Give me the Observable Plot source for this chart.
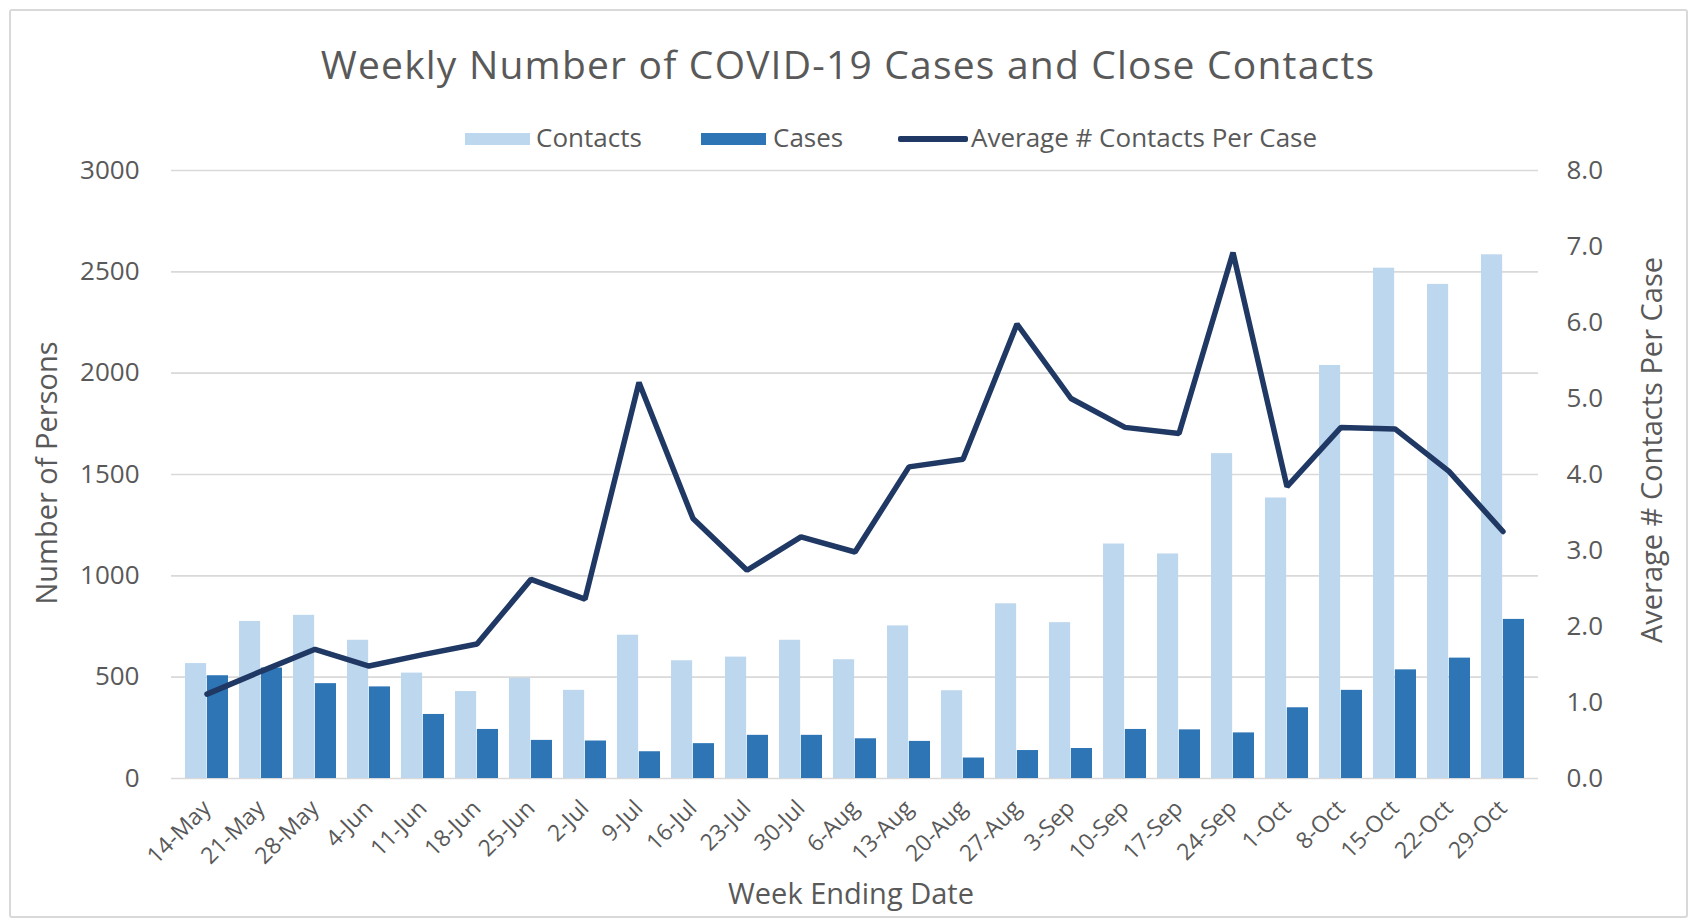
<!DOCTYPE html>
<html>
<head>
<meta charset="utf-8">
<script src="https://cdn.jsdelivr.net/npm/d3@7"></script>
<script src="https://cdn.jsdelivr.net/npm/@observablehq/plot@0.6"></script>
<style>
  body { margin: 0; background: #fff; font-family: "Open Sans", sans-serif; color: #595959; }
  #wrap { position: relative; width: 1696px; height: 923px; overflow: hidden; background: #fff; }
  #frame { position: absolute; left: 9px; top: 9px; width: 1675px; height: 905px; border: 2px solid #d9d9d9; border-radius: 3px; box-sizing: content-box; }
  #title { position: absolute; left: 0; top: 44px; width: 1696px; text-align: center; font-size: 39px; line-height: 1; letter-spacing: 1.2px; white-space: nowrap; }
  .leg { position: absolute; top: 124px; font-size: 26px; line-height: 1; white-space: nowrap; }
  .sw { position: absolute; }
  #chart { position: absolute; left: 0; top: 150px; }
  .axt { position: absolute; font-size: 29px; line-height: 1; white-space: nowrap; }
</style>
</head>
<body>
<div id="wrap">
  <div id="frame"></div>
  <div id="title">Weekly Number of COVID-19 Cases and Close Contacts</div>
  <div class="sw" style="left:465px;top:133px;width:65px;height:12px;background:#bdd7ee"></div>
  <div class="leg" style="left:536px">Contacts</div>
  <div class="sw" style="left:701px;top:133px;width:65px;height:12px;background:#2e75b6"></div>
  <div class="leg" style="left:773px">Cases</div>
  <div class="sw" style="left:898px;top:136px;width:70px;height:6px;background:#1f3864;border-radius:2px"></div>
  <div class="leg" style="left:971px">Average # Contacts Per Case</div>
  <div id="chart"></div>
  <div class="axt" style="left:45px;top:473px;transform:translate(-50%,-50%) rotate(-90deg)">Number of Persons</div>
  <div class="axt" style="left:1650px;top:450px;transform:translate(-50%,-50%) rotate(-90deg)">Average # Contacts Per Case</div>
  <div class="axt" style="left:851px;top:892px;transform:translate(-50%,-50%)">Week Ending Date</div>
</div>
<script>
const weeks = ["14-May","21-May","28-May","4-Jun","11-Jun","18-Jun","25-Jun","2-Jul","9-Jul","16-Jul","23-Jul","30-Jul","6-Aug","13-Aug","20-Aug","27-Aug","3-Sep","10-Sep","17-Sep","24-Sep","1-Oct","8-Oct","15-Oct","22-Oct","29-Oct"];
const contacts = [567,775,805,682,520,429,494,435,707,581,599,682,586,753,433,862,769,1157,1108,1603,1384,2038,2518,2438,2584];
const cases = [507,545,468,452,316,242,188,185,132,172,213,213,196,183,101,138,148,242,240,225,349,435,536,594,785];
const avgPerCase = [1.11,1.41,1.70,1.48,1.63,1.77,2.62,2.36,5.21,3.42,2.74,3.18,2.98,4.10,4.20,5.98,5.00,4.62,4.54,6.92,3.84,4.62,4.60,4.04,3.25];
const leftTicks = [0,500,1000,1500,2000,2500,3000];
const rightTicks = [0,1,2,3,4,5,6,7,8];

const rows = weeks.map((w, i) => ({week: w, contacts: contacts[i], cases: cases[i], avg: avgPerCase[i]}));
const leftMax = 3000, rightMax = 8;
const ratio = leftMax / rightMax;

const W = 1696, H = 773, mL = 171, mR = 158, mT = 20, mB = 145;
const pIn = 0.2, pOut = 0.1;
const step = (W - mL - mR) / (weeks.length - pIn + 2 * pOut);
const half = step * (1 - pIn) / 2;

const chart = Plot.plot({
  width: W, height: H,
  marginLeft: mL, marginRight: mR, marginTop: mT, marginBottom: mB,
  style: {fontFamily: "Open Sans, sans-serif", fontSize: "26px", color: "#595959", background: "transparent", overflow: "visible"},
  x: {domain: weeks, paddingInner: pIn, paddingOuter: pOut, label: null},
  y: {domain: [0, leftMax], label: null},
  marks: [
    Plot.ruleY(leftTicks, {stroke: "#d9d9d9", strokeWidth: 1.6}),
    Plot.barY(rows, {x: "week", y: "contacts", fill: "#bdd7ee", insetRight: half}),
    Plot.barY(rows, {x: "week", y: "cases", fill: "#2e75b6", insetLeft: half}),
    Plot.line(rows, {x: "week", y: d => d.avg * ratio, stroke: "#1f3864", strokeWidth: 5.5, strokeLinejoin: "miter"}),
    Plot.axisY({anchor: "left", ticks: leftTicks, tickFormat: d => String(d), tickSize: 0, tickPadding: 32, label: null, fontSize: 26}),
    Plot.axisY({anchor: "right", ticks: rightTicks.map(v => v * ratio), tickFormat: v => (v / ratio).toFixed(1), tickSize: 0, tickPadding: 28, label: null, fontSize: 26}),
    Plot.axisX({tickRotate: -45, tickSize: 0, tickPadding: 26, label: null, fontSize: 23})
  ]
});
document.getElementById("chart").appendChild(chart);
</script>
</body>
</html>
